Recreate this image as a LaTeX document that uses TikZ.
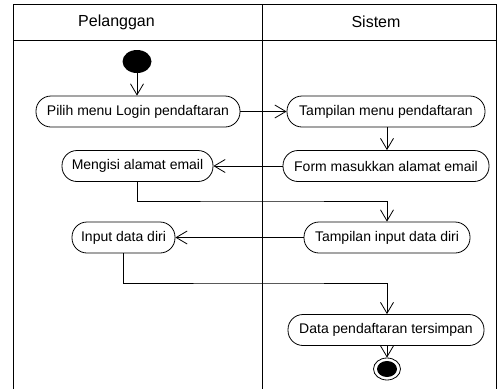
\documentclass[tikz,border=0pt]{standalone}
\usepackage{fontspec}
\setmainfont{Liberation Sans}
\usetikzlibrary{arrows.meta,shapes.geometric}
\begin{document}
\begin{tikzpicture}[x=1pt,y=-1pt,
  ln/.style={line width=0.8pt,black},
  arr/.style={ln,-{Straight Barb[length=11pt,width=13pt,line width=0.8pt]}},
  act/.style={draw,ln,rectangle,rounded corners=15pt,minimum height=31pt,inner sep=0pt,font=\fontsize{14}{16}\selectfont},
  hdr/.style={font=\fontsize{16}{18}\selectfont}]
\useasboundingbox (0,0) rectangle (504,389);
% swimlanes
\draw[ln] (13,389) -- (13,4) -- (496,4) -- (496,389);
\draw[ln] (13,40) -- (496,40);
\draw[ln] (262,4) -- (262,389);
\node[hdr] (h1) at (116.5,22) {Pelanggan};
\node[hdr] (h2) at (376,22) {Sistem};
% nodes
\node[fill,ellipse,minimum width=29pt,minimum height=23pt,inner sep=0pt] (start) at (137,61.5) {};
\node[act,minimum width=204pt] (n1) at (138,111.5) {Pilih menu Login pendaftaran};
\node[act,minimum width=198pt] (n2) at (386,111.5) {Tampilan menu pendaftaran};
\node[act,minimum width=206pt] (n3) at (386,166) {Form masukkan alamat email};
\node[act,minimum width=151pt] (n4) at (137.5,166) {Mengisi alamat email};
\node[act,minimum width=166pt] (n5) at (387,237.5) {Tampilan input data diri};
\node[act,minimum width=103pt] (n6) at (123.5,237.5) {Input data diri};
\node[act,minimum width=196pt] (n7) at (386,330) {Data pendaftaran tersimpan};
\node[draw,ln,ellipse,minimum width=27pt,minimum height=22pt,inner sep=0pt] (end) at (387,369) {};
\fill (end.center) ellipse (10pt and 8pt);
\coordinate (k1) at (262,201);
\coordinate (k2) at (262,283);
% connectors
\draw[arr] (start.south) -- (start.south |- n1.north);
\draw[arr] (n1.east) -- (n2.west);
\draw[arr] (n2.south -| 387,0) -- (n3.north -| 387,0);
\draw[arr] (n3.west) -- (n4.east);
\draw[arr] (n4.south) |- (k1) -| (n5.north);
\draw[arr] (n5.west) -- (n6.east);
\draw[arr] (n6.south) |- (k2) -| (n7.north -| 387,0);
\draw[arr] (n7.south -| end.north) -- (end.north);
\end{tikzpicture}
\end{document}
